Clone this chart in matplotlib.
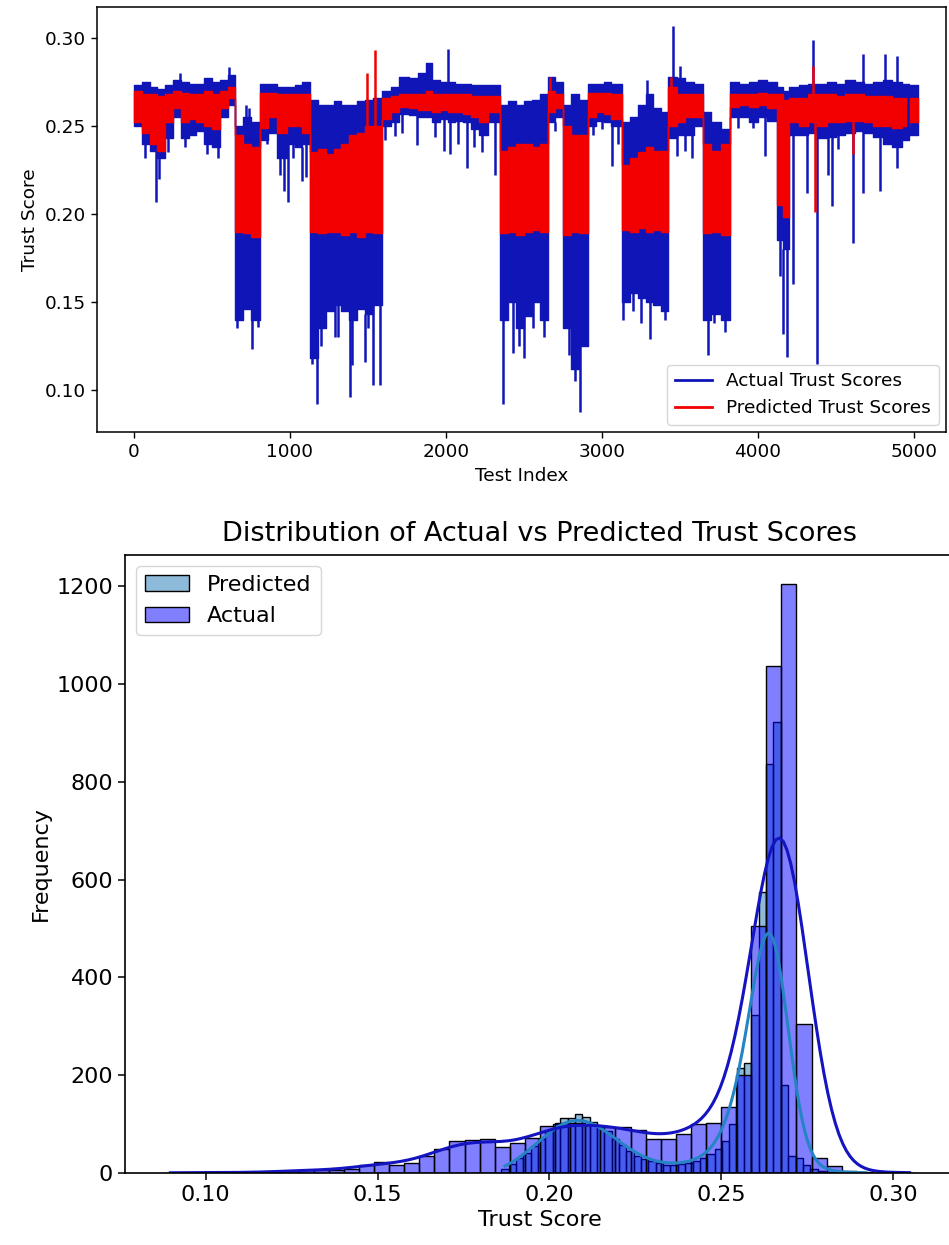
import numpy as np
import pandas as pd
import matplotlib
matplotlib.use("Agg")
import matplotlib.pyplot as plt
from matplotlib.lines import Line2D
import seaborn as sns

# ---------------------------------------------------------------------------
# Test-set trust scores: each segment [seg_start[i], seg_start[i+1]) holds the
# dense range (low / high) the series fills; isolated excursions are listed
# separately as spikes.
# ---------------------------------------------------------------------------
seg_start = [0, 50, 100, 150, 200, 250, 300, 350, 400, 450, 500, 550, 600,
             647, 700, 750,
             808, 860, 920, 980, 1030, 1080,
             1128, 1180, 1230, 1280, 1330, 1380, 1430, 1480, 1530,
             1590, 1650, 1700, 1760, 1820, 1870, 1910, 1960, 2010, 2060, 2110, 2160, 2210, 2270,
             2346, 2400, 2450, 2500, 2550, 2600,
             2654, 2700,
             2752, 2800, 2850,
             2912, 2960, 3010, 3060,
             3126, 3180, 3230, 3280, 3330, 3380,
             3426, 3480, 3530, 3590,
             3649, 3700, 3760,
             3820, 3880, 3940, 4000, 4060,
             4120, 4160,
             4200, 4260, 4320, 4380, 4440, 4500, 4560, 4620, 4680, 4740, 4800, 4860, 4920, 4970]
series_end = 5025

actual_high = [0.273, 0.275, 0.272, 0.271, 0.273, 0.276, 0.275, 0.274, 0.274, 0.277, 0.275, 0.276, 0.279,
               0.250, 0.255, 0.252,
               0.274, 0.274, 0.272, 0.272, 0.273, 0.275,
               0.265, 0.262, 0.262, 0.264, 0.262, 0.262, 0.264, 0.265, 0.266,
               0.270, 0.272, 0.278, 0.277, 0.280, 0.286, 0.276, 0.275, 0.275, 0.274, 0.274, 0.273, 0.273, 0.273,
               0.262, 0.264, 0.262, 0.264, 0.265, 0.268,
               0.278, 0.275,
               0.262, 0.268, 0.265,
               0.274, 0.274, 0.275, 0.274,
               0.252, 0.255, 0.262, 0.268, 0.260, 0.258,
               0.278, 0.277, 0.275, 0.274,
               0.258, 0.252, 0.248,
               0.275, 0.274, 0.275, 0.276, 0.275,
               0.272, 0.270,
               0.272, 0.273, 0.274, 0.274, 0.275, 0.274, 0.276, 0.275, 0.274, 0.275, 0.276, 0.275, 0.274, 0.273]

actual_low = [0.250, 0.240, 0.236, 0.232, 0.243, 0.255, 0.243, 0.245, 0.247, 0.240, 0.238, 0.255, 0.262,
              0.140, 0.146, 0.140,
              0.242, 0.246, 0.232, 0.240, 0.238, 0.240,
              0.118, 0.135, 0.145, 0.148, 0.145, 0.140, 0.146, 0.143, 0.148,
              0.250, 0.252, 0.257, 0.256, 0.255, 0.255, 0.252, 0.254, 0.252, 0.253, 0.252, 0.248, 0.245, 0.252,
              0.140, 0.150, 0.135, 0.142, 0.150, 0.140,
              0.252, 0.255,
              0.135, 0.112, 0.125,
              0.250, 0.253, 0.252, 0.250,
              0.150, 0.155, 0.152, 0.150, 0.148, 0.145,
              0.243, 0.245, 0.245, 0.250,
              0.140, 0.143, 0.140,
              0.255, 0.255, 0.252, 0.255, 0.253,
              0.185, 0.180,
              0.245, 0.245, 0.246, 0.243, 0.244, 0.245, 0.246, 0.247, 0.246, 0.244, 0.240, 0.238, 0.242, 0.245]

predicted_high = [0.270, 0.268, 0.268, 0.267, 0.268, 0.270, 0.269, 0.268, 0.268, 0.270, 0.268, 0.270, 0.272,
                  0.245, 0.240, 0.238,
                  0.269, 0.269, 0.268, 0.268, 0.268, 0.268,
                  0.235, 0.237, 0.234, 0.237, 0.240, 0.245, 0.246, 0.250, 0.250,
                  0.266, 0.267, 0.268, 0.268, 0.268, 0.270, 0.268, 0.268, 0.268, 0.268, 0.268, 0.267, 0.267, 0.267,
                  0.236, 0.238, 0.240, 0.240, 0.238, 0.240,
                  0.270, 0.268,
                  0.250, 0.245, 0.245,
                  0.269, 0.269, 0.269, 0.268,
                  0.228, 0.232, 0.235, 0.238, 0.236, 0.236,
                  0.272, 0.268, 0.268, 0.268,
                  0.240, 0.236, 0.240,
                  0.268, 0.268, 0.268, 0.269, 0.268,
                  0.268, 0.265,
                  0.266, 0.266, 0.268, 0.268, 0.268, 0.267, 0.268, 0.268, 0.267, 0.267, 0.267, 0.266, 0.266, 0.266]

predicted_low = [0.252, 0.246, 0.240, 0.236, 0.252, 0.260, 0.252, 0.254, 0.252, 0.250, 0.248, 0.260, 0.266,
                 0.190, 0.189, 0.187,
                 0.249, 0.255, 0.246, 0.250, 0.250, 0.246,
                 0.190, 0.189, 0.190, 0.190, 0.188, 0.190, 0.187, 0.190, 0.189,
                 0.254, 0.258, 0.261, 0.260, 0.259, 0.259, 0.258, 0.259, 0.258, 0.258, 0.257, 0.255, 0.252, 0.258,
                 0.189, 0.190, 0.188, 0.190, 0.191, 0.190,
                 0.258, 0.260,
                 0.188, 0.190, 0.189,
                 0.255, 0.258, 0.257, 0.254,
                 0.191, 0.190, 0.192, 0.190, 0.191, 0.190,
                 0.250, 0.252, 0.255, 0.255,
                 0.189, 0.190, 0.188,
                 0.261, 0.262, 0.261, 0.262, 0.260,
                 0.205, 0.198,
                 0.252, 0.250, 0.252, 0.250, 0.252, 0.252, 0.253, 0.253, 0.252, 0.250, 0.250, 0.249, 0.250, 0.252]

actual_spike_idx = [70, 141, 160, 220, 295, 330, 467, 540, 610,
                    660, 715, 740, 756, 795,
                    850, 935, 960, 985, 1020, 1075, 1100,
                    1140, 1171, 1200, 1288, 1310, 1385, 1395, 1480, 1500, 1532, 1574,
                    1610, 1673, 1720, 1813, 1930, 1990, 2013, 2025, 2080, 2134, 2180, 2230, 2314,
                    2367, 2431, 2470, 2500, 2560, 2630,
                    2699,
                    2790, 2830, 2859,
                    2943, 3000, 3064, 3100,
                    3135, 3200, 3250, 3288, 3308, 3404,
                    3455, 3481, 3500, 3532, 3577,
                    3680, 3720, 3790,
                    3872, 3968, 4045,
                    4140, 4160, 4186,
                    4226, 4313, 4355, 4378, 4450, 4473, 4513, 4610, 4670, 4674, 4782, 4814, 4890, 4893, 4962]
actual_spike_val = [0.232, 0.207, 0.220, 0.235, 0.280, 0.238, 0.234, 0.232, 0.2835,
                    0.135, 0.262, 0.260, 0.123, 0.136,
                    0.240, 0.222, 0.213, 0.207, 0.232, 0.219, 0.221,
                    0.115, 0.092, 0.125, 0.130, 0.130, 0.096, 0.114, 0.116, 0.135, 0.103, 0.103,
                    0.242, 0.2445, 0.246, 0.239, 0.244, 0.236, 0.294, 0.234, 0.240, 0.226, 0.238, 0.235, 0.222,
                    0.092, 0.121, 0.125, 0.118, 0.135, 0.130,
                    0.247,
                    0.120, 0.105, 0.0875,
                    0.245, 0.248, 0.227, 0.240,
                    0.140, 0.145, 0.138, 0.276, 0.129, 0.140,
                    0.307, 0.233, 0.284, 0.236, 0.232,
                    0.120, 0.138, 0.133,
                    0.249, 0.249, 0.233,
                    0.165, 0.132, 0.119,
                    0.160, 0.212, 0.299, 0.115, 0.222, 0.2045, 0.237, 0.1835, 0.291, 0.212, 0.213, 0.291, 0.226, 0.290, 0.242]

predicted_spike_idx = [1493, 1545, 2665, 3440, 4355, 4365, 4610]
predicted_spike_val = [0.280, 0.293, 0.278, 0.278, 0.284, 0.201, 0.234]

# Histogram counts (50 equal-width bins over each series' range)
actual_hist_range = (0.0875, 0.307)
actual_hist_counts = [1, 1, 0, 1, 1, 1, 2, 2, 5, 6, 6, 7, 8,
                      17, 23, 17, 20, 35, 50, 65,
                      68, 70, 53, 61, 71, 96, 102, 102, 99, 95, 95, 88, 70, 70, 80, 100, 102,
                      135, 200, 505, 1038, 1204, 305, 30, 14,
                      4, 2, 1, 1, 1]
predicted_hist_range = (0.186, 0.293)
predicted_hist_counts = [8, 18, 30, 42, 55, 70, 85, 100, 112, 112,
                         120, 115, 105, 95, 85, 70, 58, 45, 35, 28,
                         24, 20, 17, 16, 18, 20, 24, 30, 38, 50,
                         66, 101, 215, 225, 324, 575, 836, 923, 181, 35,
                         31, 17, 8, 5, 3, 2, 1, 1, 1, 1]

ACTUAL_COLOR = "#1015b8"
PRED_COLOR = "#f20000"

fig = plt.figure(figsize=(9.49, 12.45), dpi=100)

# ---------------------------- line chart -----------------------------------
ax1 = fig.add_axes([0.1022, 0.653, 0.8946, 0.3414])
edges = np.array(seg_start + [series_end])


def draw_band(ax, low, high, color):
    low = np.asarray(low)
    high = np.asarray(high)
    ax.fill_between(edges, np.append(low, low[-1]), np.append(high, high[-1]),
                    step="post", facecolor=color, edgecolor=color, lw=1.0)


def draw_spikes(ax, idx, val, low, high, color):
    idx = np.asarray(idx)
    val = np.asarray(val)
    seg = np.searchsorted(edges, idx, side="right") - 1
    low = np.asarray(low)[seg]
    high = np.asarray(high)[seg]
    base = np.where(val < low, low, high)
    ax.vlines(idx, np.minimum(val, base), np.maximum(val, base), color=color, lw=1.8)


draw_band(ax1, actual_low, actual_high, ACTUAL_COLOR)
draw_spikes(ax1, actual_spike_idx, actual_spike_val, actual_low, actual_high, ACTUAL_COLOR)
draw_band(ax1, predicted_low, predicted_high, PRED_COLOR)
draw_spikes(ax1, predicted_spike_idx, predicted_spike_val, predicted_low, predicted_high, PRED_COLOR)

ax1.set_xlim(-237, 5205)
ax1.set_ylim(0.0761, 0.3176)
ax1.set_yticks([0.10, 0.15, 0.20, 0.25, 0.30])
ax1.set_xticks([0, 1000, 2000, 3000, 4000, 5000])
ax1.set_xlabel("Test Index", fontsize=13.3)
ax1.set_ylabel("Trust Score", fontsize=13.3)
ax1.tick_params(labelsize=13.3, length=4.5, width=1.0)
for s in ax1.spines.values():
    s.set_linewidth(1.1)
handles = [Line2D([], [], color=ACTUAL_COLOR, lw=2.0, label="Actual Trust Scores"),
           Line2D([], [], color=PRED_COLOR, lw=2.0, label="Predicted Trust Scores")]
ax1.legend(handles=handles, loc="lower right", fontsize=13.3, borderaxespad=0.4)

# ---------------------------- histogram ------------------------------------
ax2 = fig.add_axes([0.1317, 0.0578, 0.8746, 0.4964])


def kde_adjust(counts, widen=1.0):
    # bandwidth equivalent to Scott's rule on the unbinned sample
    c = np.asarray(counts, dtype=float)
    n = c.sum()
    neff = n ** 2 / np.sum(c ** 2)
    return widen * (neff / n) ** 0.2


def bin_table(rng, counts):
    e = np.linspace(rng[0], rng[1], len(counts) + 1)
    return pd.DataFrame({"score": 0.5 * (e[:-1] + e[1:]), "count": counts})


pred_df = bin_table(predicted_hist_range, predicted_hist_counts)
act_df = bin_table(actual_hist_range, actual_hist_counts)

sns.histplot(data=pred_df, x="score", weights="count",
             bins=len(predicted_hist_counts), binrange=predicted_hist_range, kde=True,
             color="#1f77b4", alpha=0.5, label="Predicted", ax=ax2,
             kde_kws=dict(bw_adjust=kde_adjust(predicted_hist_counts)),
             line_kws=dict(lw=2.2))
pred_kde_line = ax2.lines[-1]
sns.histplot(data=act_df, x="score", weights="count",
             bins=len(actual_hist_counts), binrange=actual_hist_range, kde=True,
             color="blue", alpha=0.5, label="Actual", ax=ax2,
             kde_kws=dict(bw_adjust=kde_adjust(actual_hist_counts, 1.1)),
             line_kws=dict(lw=2.2))
act_kde_line = ax2.lines[-1]
pred_kde_line.set_color("#2584c4")
act_kde_line.set_color("#1414c0")

ax2.set_xlim(0.0765, 0.318)
ax2.set_ylim(0, 1264)
ax2.set_xticks([0.10, 0.15, 0.20, 0.25, 0.30])
ax2.set_yticks([0, 200, 400, 600, 800, 1000, 1200])
ax2.set_title("Distribution of Actual vs Predicted Trust Scores", fontsize=19.5, pad=10)
ax2.set_xlabel("Trust Score", fontsize=16)
ax2.set_ylabel("Frequency", fontsize=16)
ax2.tick_params(labelsize=16, length=5, width=1.1)
for s in ax2.spines.values():
    s.set_linewidth(1.2)
ax2.legend(loc="upper left", fontsize=16)

fig.savefig("out.png", dpi=100)
